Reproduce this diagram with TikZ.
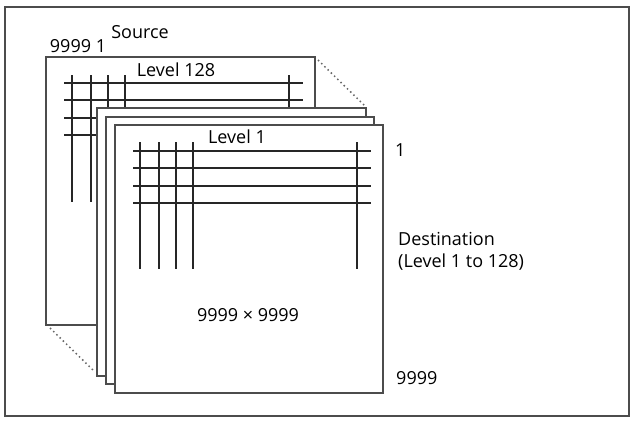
\documentclass[tikz,border=0pt]{standalone}
\usepackage{fontspec}
\setmainfont{Open Sans}
\begin{document}
\begin{tikzpicture}[x=1pt,y=-1pt,
  sheet/.style={draw=black!70,fill=white,line width=1.2pt},
  grid/.style={draw=black!85,line width=1.2pt},
  lbl/.style={font=\fontsize{18}{22}\selectfont,inner sep=0pt},
  dots/.style={draw=black!60,line width=1.5pt,dash pattern=on 1.5pt off 3pt}]
\useasboundingbox (0,0) rectangle (634,421);
\draw[draw=black!70,line width=1.2pt] (5,7) rectangle (629,416);
% back sheet
\draw[sheet] (46,57) rectangle (315,325);
\foreach \y in {83,100,118,135} \draw[grid] (64,\y) -- (303,\y);
\foreach \x in {72,91,108,125} \draw[grid] (\x,75) -- (\x,202);
\draw[grid] (289,75) -- (289,120);
\node[lbl] (l128) at (176,70) {Level 128};
\draw[dots] (318,60) -- (365,106);
\draw[dots] (50,328) -- (95,372);
% middle sheets
\draw[sheet] (97,108) rectangle (366,376);
\draw[sheet] (106,117) rectangle (374,384);
% front sheet
\draw[sheet] (115,125) rectangle (383,393);
\foreach \y in {151,168,186,203} \draw[grid] (133,\y) -- (371,\y);
\foreach \x in {140,159,176,193,357} \draw[grid] (\x,142) -- (\x,269);
\node[lbl] (l1) at (237,137) {Level 1};
\node[lbl] (sz) at (248,315) {9999 × 9999};
\node[lbl] (src) at (140,32) {Source};
\node[lbl] (s91) at (78,46) {9999 1};
\node[lbl,anchor=west] (one) at (395,150) {1};
\node[lbl,anchor=west,align=left] (dst) at (398,251) {Destination\\(Level 1 to 128)};
\node[lbl,anchor=west] (n9) at (396,378) {9999};
\end{tikzpicture}
\end{document}
